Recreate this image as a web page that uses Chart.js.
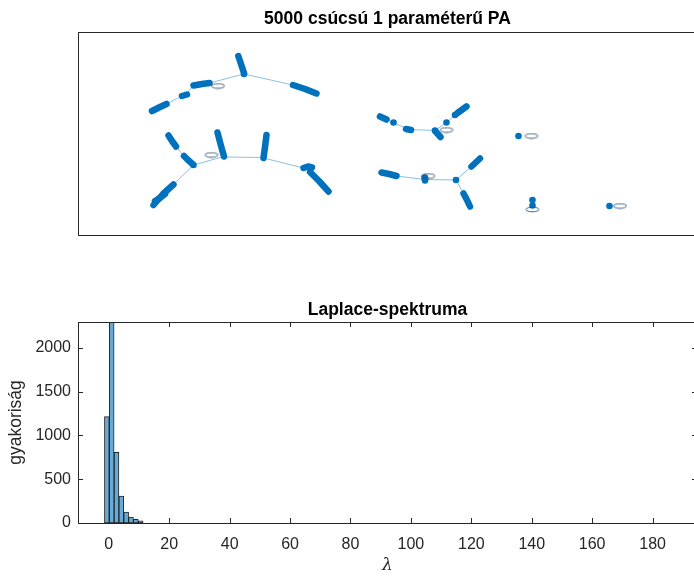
<!DOCTYPE html>
<html>
<head>
<meta charset="utf-8">
<script src="https://cdn.jsdelivr.net/npm/chart.js@4"></script>
<style>
    html, body { margin: 0; padding: 0; background: #fff; overflow: hidden; width: 694px; height: 576px; }
    #chart-graph { position: absolute; left: 0; top: 0; }
    #chart-spectrum { position: absolute; left: 0; top: 290px; }
</style>
</head>
<body>
<canvas id="chart-graph" width="720" height="250"></canvas>
<canvas id="chart-spectrum" width="720" height="286"></canvas>
<script>
/* ============================================
   Data
   ============================================ */

// graph layout: single nodes
const graphNodes = [
    [244, 74],
    [193.5, 165],
    [393.5, 122.5], [435, 130.5], [446.5, 122.5], [455, 115],
    [518.5, 136],
    [425, 179.5], [456, 180],
    [532.5, 200], [532.5, 205.5],
    [609.5, 206]
];

// dense runs of nodes (drawn as thick strokes)
const graphClusters = [
    [[238.3, 56], [241, 64], [244, 73]],
    [[293, 85], [305, 89], [316.5, 93.5]],
    [[193.5, 85.5], [202, 84], [209.5, 83]],
    [[182, 96], [187, 94.5]],
    [[152, 111], [160, 107], [166.5, 104]],
    [[168.5, 135.5], [172, 141], [176, 146.5]],
    [[184, 156], [188, 160], [192, 163.5]],
    [[173.5, 184.5], [163, 194], [153.5, 205]],
    [[155, 201], [160, 198], [165, 194]],
    [[217.5, 132.5], [220.5, 144], [224, 156.5]],
    [[266.5, 135], [265, 147], [263.5, 158]],
    [[303.5, 168], [308, 166.5], [312, 167.5]],
    [[310, 172], [319, 181], [328.5, 191.5]],
    [[380, 116.5], [386.5, 119.5]],
    [[406, 129], [411, 130]],
    [[436, 132], [440.5, 137]],
    [[457.5, 113], [466.5, 106.5]],
    [[381.5, 172.5], [389, 174], [396.5, 176]],
    [[424.5, 177.5], [425, 180.5]],
    [[471.5, 166.5], [480, 158.5]],
    [[463.5, 193.5], [467, 200], [470, 206.5]]
];

// thin edges between parts
const graphEdges = [
    [[244, 74], [293, 85]],
    [[244, 74], [209.5, 83]],
    [[193.5, 85.5], [185, 95]],
    [[182, 96], [166.5, 104]],
    [[176, 146.5], [184, 156]],
    [[193.5, 165], [173.5, 184.5]],
    [[193.5, 165], [224, 156.5]],
    [[224, 157], [263.5, 157.5]],
    [[263.5, 158], [303.5, 168]],
    [[386.5, 119.5], [393.5, 122.5]],
    [[393.5, 122.5], [408.5, 129.5]],
    [[408.5, 129.5], [435, 130.5]],
    [[435, 130.5], [446.5, 122.5]],
    [[446.5, 122.5], [455, 115]],
    [[396.5, 176], [425, 179.5]],
    [[425, 179.5], [456, 180]],
    [[456, 180], [471.5, 166.5]],
    [[456, 180], [463.5, 193.5]],
    [[532.5, 200], [532.5, 205.5]]
];

// self-loops
const graphLoops = [
    [218, 86], [211.5, 155], [446.5, 130], [531.5, 136],
    [428.5, 176], [532.5, 209.5], [620, 206]
];

// histogram of the Laplace spectrum
const binCenters = [-0.65, 0.95, 2.55, 4.15, 5.75, 7.35, 8.95, 10.55];
const binCounts = [1215, 2390, 808, 309, 126, 69, 42, 26];
const xTicks = [0, 20, 40, 60, 80, 100, 120, 140, 160, 180];
const yTicks = [0, 500, 1000, 1500, 2000];

/* ============================================
   Styles
   ============================================ */

const FONT = "'Liberation Sans', Arial, Helvetica, sans-serif";
const AXIS_COLOR = '#262626';
const NODE_COLOR = '#0072BD';
const EDGE_COLOR = 'rgba(0, 114, 189, 0.45)';

// box around the axes, inward ticks, title centred over the axes
const boxPlugin = {
    id: 'box',
    afterDatasetsDraw(chart, args, opts) {
        const { ctx, chartArea: a } = chart;
        ctx.save();
        ctx.strokeStyle = AXIS_COLOR;
        ctx.lineWidth = 1;
        ctx.strokeRect(Math.round(a.left) + 0.5, Math.round(a.top) + 0.5,
            Math.round(a.right - a.left), Math.round(a.bottom - a.top));
        if (opts.ticks) {
            const len = 5;
            ctx.beginPath();
            chart.scales.x.ticks.forEach(t => {
                const px = Math.round(chart.scales.x.getPixelForValue(t.value)) + 0.5;
                ctx.moveTo(px, a.bottom); ctx.lineTo(px, a.bottom - len);
                ctx.moveTo(px, a.top); ctx.lineTo(px, a.top + len);
            });
            chart.scales.y.ticks.forEach(t => {
                const py = Math.round(chart.scales.y.getPixelForValue(t.value)) + 0.5;
                ctx.moveTo(a.left, py); ctx.lineTo(a.left + len, py);
                ctx.moveTo(a.right, py); ctx.lineTo(a.right - len, py);
            });
            ctx.stroke();
        }
        if (opts.title) {
            ctx.fillStyle = '#000';
            ctx.font = 'bold 17.5px ' + FONT;
            ctx.textAlign = 'center';
            ctx.textBaseline = 'middle';
            ctx.fillText(opts.title, (a.left + a.right) / 2, a.top - opts.titleGap);
        }
        ctx.restore();
    }
};

function makeLoopImage() {
    const c = document.createElement('canvas');
    c.width = 16;
    c.height = 7;
    const g = c.getContext('2d');
    g.strokeStyle = 'rgba(40, 75, 110, 0.85)';
    g.lineWidth = 1;
    g.beginPath();
    g.ellipse(8, 3.5, 6.5, 2.3, 0, 0, Math.PI * 2);
    g.stroke();
    return c;
}

/* ============================================
   Graph drawing
   ============================================ */

function renderGraph() {
    const toXY = p => ({ x: p[0], y: p[1] });
    const datasets = [];

    graphEdges.forEach(e => {
        datasets.push({
            data: e.map(toXY),
            showLine: true,
            borderColor: EDGE_COLOR,
            borderWidth: 1,
            pointRadius: 0
        });
    });

    datasets.push({
        data: graphLoops.map(toXY),
        pointStyle: makeLoopImage(),
        pointRadius: 7
    });

    graphClusters.forEach(c => {
        datasets.push({
            data: c.map(toXY),
            showLine: true,
            borderColor: NODE_COLOR,
            borderWidth: 6.5,
            borderCapStyle: 'round',
            borderJoinStyle: 'round',
            pointRadius: 0
        });
    });

    datasets.push({
        data: graphNodes.map(toXY),
        pointRadius: 3.3,
        backgroundColor: NODE_COLOR,
        borderWidth: 0
    });

    new Chart(document.getElementById('chart-graph'), {
        type: 'scatter',
        data: { datasets },
        plugins: [boxPlugin],
        options: {
            responsive: false,
            animation: false,
            layout: { padding: { left: 78, right: 23, top: 32, bottom: 15 } },
            plugins: {
                legend: { display: false },
                tooltip: { enabled: false },
                box: { ticks: false, title: '5000 csúcsú 1 paraméterű PA', titleGap: 13 }
            },
            scales: {
                x: { display: false, min: 78, max: 697 },
                y: { display: false, min: 32, max: 235, reverse: true }
            }
        }
    });
}

/* ============================================
   Spectrum histogram
   ============================================ */

function renderSpectrum() {
    new Chart(document.getElementById('chart-spectrum'), {
        type: 'bar',
        data: {
            datasets: [{
                data: binCenters.map((x, i) => ({ x, y: binCounts[i] })),
                backgroundColor: 'rgb(102, 170, 215)',
                borderColor: 'rgba(0, 0, 0, 0.85)',
                borderWidth: 1,
                borderSkipped: false,
                barPercentage: 1,
                categoryPercentage: 1
            }]
        },
        plugins: [boxPlugin],
        options: {
            responsive: false,
            animation: false,
            layout: { padding: { left: 0, right: 23, top: 32, bottom: 0 } },
            plugins: {
                legend: { display: false },
                tooltip: { enabled: false },
                box: { ticks: true, title: 'Laplace-spektruma', titleGap: 12 }
            },
            scales: {
                x: {
                    type: 'linear',
                    min: -10.2,
                    max: 194.7,
                    offset: false,
                    grid: { display: false, drawTicks: false, offset: false },
                    border: { display: false },
                    afterBuildTicks: s => { s.ticks = xTicks.map(v => ({ value: v })); },
                    afterFit: s => { s.height = 53; },
                    ticks: {
                        color: AXIS_COLOR,
                        padding: 12,
                        maxRotation: 0,
                        callback: v => String(v),
                        font: { family: FONT, size: 16 }
                    },
                    title: {
                        display: true,
                        text: 'λ',
                        color: AXIS_COLOR,
                        padding: { top: 0, bottom: 0 },
                        font: { family: "'DejaVu Serif', 'Liberation Serif', serif", size: 17, style: 'italic' }
                    }
                },
                y: {
                    min: 0,
                    max: 2297,
                    grid: { display: false, drawTicks: false },
                    border: { display: false },
                    afterBuildTicks: s => { s.ticks = yTicks.map(v => ({ value: v })); },
                    afterFit: s => { s.width = 78; },
                    ticks: {
                        color: AXIS_COLOR,
                        padding: 7,
                        callback: v => String(v),
                        font: { family: FONT, size: 16 }
                    },
                    title: {
                        display: true,
                        text: 'gyakoriság',
                        color: AXIS_COLOR,
                        padding: { top: 6, bottom: 0 },
                        font: { family: FONT, size: 17.5 }
                    }
                }
            }
        }
    });
}

renderGraph();
renderSpectrum();
</script>
</body>
</html>
